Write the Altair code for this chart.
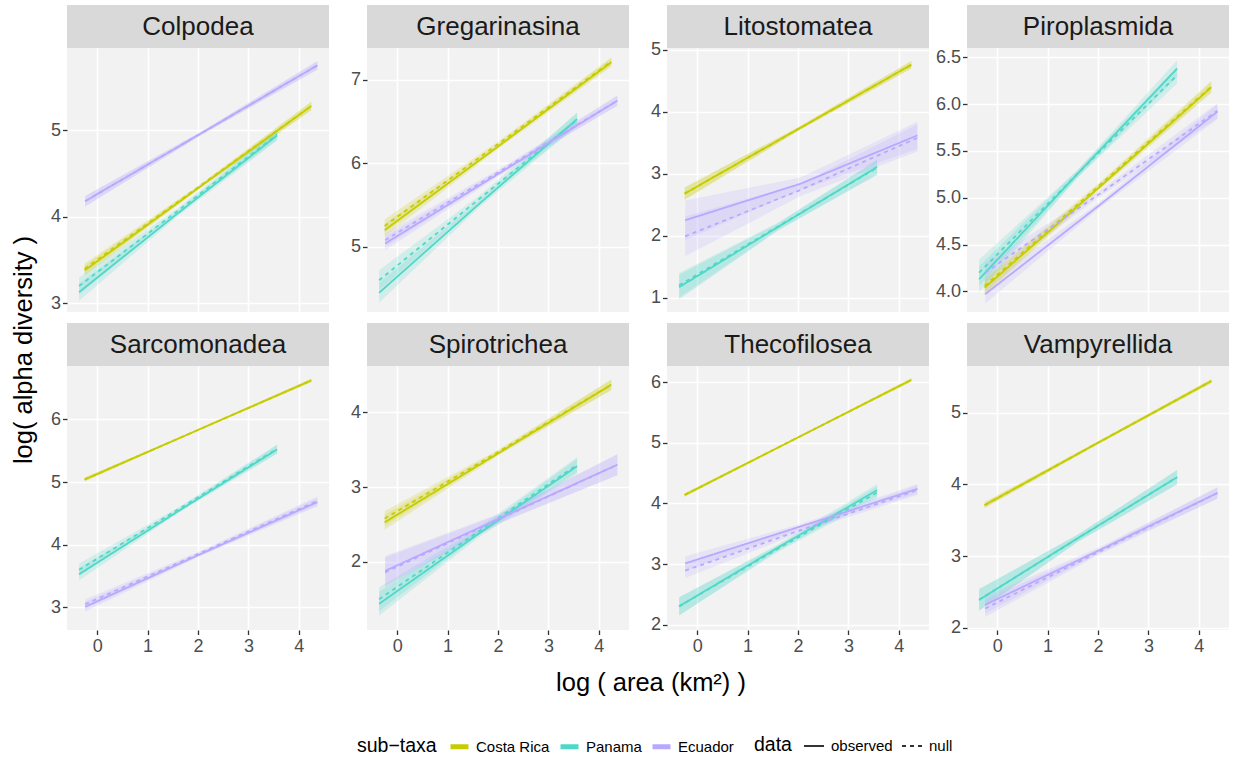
import altair as alt
import pandas as pd

FONT = "Liberation Sans"

taxa = ["Colpodea", "Gregarinasina", "Litostomatea", "Piroplasmida",
        "Sarcomonadea", "Spirotrichea", "Thecofilosea", "Vampyrellida"]
regions = ["Costa Rica", "Panama", "Ecuador"]
region_colors = ["#C6CC00", "#4FD8C8", "#B9A8FF"]
data_kinds = ["observed", "null"]

# x positions along each fitted line (start, middle, end)
x_cr = [-0.25, 2.0, 4.25]
x_pa = [-0.36, 1.6, 3.57]
x_ec = [-0.24, 2.05, 4.37]

# fitted values (start, middle, end) per taxon
cr_obs = [[3.38, 4.33, 5.28], [5.20, 6.20, 7.21], [2.68, 3.72, 4.76], [4.04, 5.10, 6.18],
          [5.04, 5.83, 6.62], [2.53, 3.45, 4.37], [4.14, 5.09, 6.04], [3.71, 4.58, 5.44]]
cr_null = [[3.40, 4.34, 5.28], [5.25, 6.23, 7.22], [2.68, 3.72, 4.76], [4.06, 5.12, 6.19],
           [5.04, 5.83, 6.62], [2.58, 3.47, 4.37], [4.14, 5.09, 6.04], [3.71, 4.58, 5.44]]
pa_obs = [[3.13, 4.04, 4.94], [4.45, 5.50, 6.53], [1.17, 2.14, 3.11], [4.13, 5.26, 6.38],
          [3.53, 4.53, 5.52], [1.44, 2.37, 3.28], [2.30, 3.27, 4.22], [2.39, 3.25, 4.10]]
pa_null = [[3.20, 4.07, 4.95], [4.60, 5.56, 6.52], [1.20, 2.15, 3.10], [4.20, 5.26, 6.31],
           [3.60, 4.56, 5.53], [1.50, 2.40, 3.30], [2.30, 3.25, 4.18], [2.39, 3.25, 4.10]]
ec_obs = [[4.18, 4.96, 5.75], [5.04, 5.89, 6.75], [2.25, 2.84, 3.62], [3.97, 4.93, 5.92],
          [3.01, 3.85, 4.68], [1.88, 2.59, 3.30], [3.01, 3.62, 4.24], [2.32, 3.09, 3.88]]
ec_null = [[4.18, 4.96, 5.75], [5.08, 5.91, 6.75], [1.99, 2.74, 3.58], [4.20, 5.05, 5.93],
           [3.05, 3.87, 4.70], [1.86, 2.58, 3.30], [2.89, 3.56, 4.22], [2.27, 3.07, 3.88]]

# confidence band half-widths (start, middle, end)
cr_band = [[0.06, 0.02, 0.05], [0.08, 0.03, 0.05], [0.10, 0.03, 0.06], [0.08, 0.03, 0.06],
           [0.03, 0.01, 0.03], [0.10, 0.03, 0.07], [0.03, 0.01, 0.03], [0.04, 0.02, 0.03]]
pa_band = [[0.10, 0.03, 0.06], [0.12, 0.04, 0.08], [0.20, 0.06, 0.12], [0.14, 0.04, 0.09],
           [0.10, 0.03, 0.07], [0.16, 0.05, 0.10], [0.15, 0.05, 0.10], [0.15, 0.05, 0.10]]
ec_band = [[0.06, 0.02, 0.05], [0.08, 0.03, 0.06], [0.32, 0.10, 0.22], [0.10, 0.03, 0.08],
           [0.08, 0.03, 0.07], [0.20, 0.06, 0.14], [0.12, 0.04, 0.08], [0.12, 0.04, 0.08]]

y_domains = [[2.90, 5.95], [4.22, 7.38], [0.77, 5.03], [3.78, 6.60],
             [2.64, 6.85], [1.09, 4.62], [1.91, 6.27], [1.97, 5.65]]
y_ticks = [[3, 4, 5], [5, 6, 7], [1, 2, 3, 4, 5], [4.0, 4.5, 5.0, 5.5, 6.0, 6.5],
           [3, 4, 5, 6], [2, 3, 4], [2, 3, 4, 5, 6], [2, 3, 4, 5]]
y_formats = ["d", "d", "d", ".1f", "d", "d", "d", "d"]
x_domain = [-0.6, 4.6]
x_ticks = [0, 1, 2, 3, 4]

y_title = "log( alpha diversity )"
x_title = "log ( area (km\u00b2) )"

series = [
    ("Costa Rica", x_cr, cr_obs, cr_null, cr_band),
    ("Panama", x_pa, pa_obs, pa_null, pa_band),
    ("Ecuador", x_ec, ec_obs, ec_null, ec_band),
]
rows = []
for ti, taxon in enumerate(taxa):
    for region, xs, obs, nul, band in series:
        for kind, vals in (("observed", obs), ("null", nul)):
            for k in range(3):
                y = vals[ti][k]
                h = band[ti][k]
                rows.append({"taxon": taxon, "region": region, "data": kind,
                             "x": xs[k], "y": y, "lo": y - h, "hi": y + h})
df = pd.DataFrame(rows)

W, H = 262, 264
TICK_LABEL = dict(labelFontSize=18, labelColor="#4D4D4D", labelFont=FONT,
                  tickColor="#333333", tickSize=4.5, tickWidth=1.3,
                  gridColor="white", gridWidth=1.6)
color_scale = alt.Scale(domain=regions, range=region_colors)
dash_scale = alt.Scale(domain=data_kinds, range=[[1, 0], [4, 4]])

color_legend = alt.Legend(
    title="sub\u2212taxa", orient="none", legendX=290, legendY=687,
    direction="horizontal", titleOrient="left", symbolType="stroke",
    symbolStrokeWidth=5, symbolSize=324, symbolOpacity=1,
    labelFontSize=15, titleFontSize=19.5,
    titleFontWeight="normal", labelOffset=5, columnPadding=0, titlePadding=11,
    labelFont=FONT, titleFont=FONT, titleColor="black", labelColor="black",
)
dash_legend = alt.Legend(
    title="data", orient="none", legendX=687, legendY=687,
    direction="horizontal", titleOrient="left", symbolType="stroke",
    symbolStrokeWidth=2, symbolSize=400, symbolStrokeColor="#333333",
    labelFontSize=15, titleFontSize=19.5, titleFontWeight="normal",
    labelOffset=6, columnPadding=5, titlePadding=11,
    labelFont=FONT, titleFont=FONT, titleColor="black", labelColor="black",
)


def make_panel(i):
    taxon = taxa[i]
    d = df[df["taxon"] == taxon]
    bottom = i >= 4
    xscale = alt.Scale(domain=x_domain, nice=False, zero=False)
    yscale = alt.Scale(domain=y_domains[i], nice=False, zero=False)
    xaxis = alt.Axis(values=x_ticks, title=None, labels=bottom, ticks=bottom,
                     domain=False, grid=True, format="d", labelPadding=3,
                     **TICK_LABEL)
    yaxis = alt.Axis(values=y_ticks[i], format=y_formats[i], title=None,
                     domain=False, grid=True, labelPadding=2, **TICK_LABEL)
    base = alt.Chart(d)
    bands = base.mark_area(opacity=0.2).encode(
        x=alt.X("x:Q", scale=xscale, axis=xaxis),
        y=alt.Y("lo:Q", scale=yscale, axis=yaxis),
        y2="hi:Q",
        color=alt.Color("region:N", scale=color_scale, legend=color_legend),
        detail="data:N",
    )
    lines = base.mark_line(strokeWidth=1.8).encode(
        x=alt.X("x:Q", scale=xscale, axis=xaxis),
        y=alt.Y("y:Q", scale=yscale, axis=yaxis),
        color=alt.Color("region:N", scale=color_scale, legend=color_legend),
        strokeDash=alt.StrokeDash("data:N", scale=dash_scale, legend=dash_legend),
    )
    sdf = pd.DataFrame({"taxon": [taxon]})
    strip = alt.Chart(sdf).mark_rect(color="#D9D9D9").encode(
        x=alt.value(0), x2=alt.value(W), y=alt.value(-43), y2=alt.value(0))
    strip_text = alt.Chart(sdf).mark_text(
        font=FONT, fontSize=26, color="#1A1A1A", baseline="middle", align="center"
    ).encode(x=alt.value(W / 2), y=alt.value(-21), text="taxon:N")
    layers = [bands, lines, strip, strip_text]
    if i == 0:
        layers.append(alt.Chart(pd.DataFrame({"label": [y_title]})).mark_text(
            font=FONT, fontSize=25.5, color="black", angle=270,
            baseline="middle", align="center"
        ).encode(x=alt.value(-43), y=alt.value(302), text="label:N"))
    if i == 6:
        layers.append(alt.Chart(pd.DataFrame({"label": [x_title]})).mark_text(
            font=FONT, fontSize=25.5, color="black",
            baseline="middle", align="center"
        ).encode(x=alt.value(-16), y=alt.value(317), text="label:N"))
    return alt.layer(*layers).properties(width=W, height=H)


panels = [make_panel(i) for i in range(len(taxa))]
chart = alt.concat(*panels, columns=4, spacing={"row": 54, "column": 38},
                   bounds="flush").properties(
    padding={"left": 12, "top": 5, "right": 5, "bottom": 5}
).configure(font=FONT).configure_view(
    fill="#F2F2F2", stroke=None
).configure_axis(
    gridColor="white", gridWidth=1.6, domain=False, tickColor="#333333",
    tickSize=4.5, tickWidth=1.3, labelColor="#4D4D4D", labelFontSize=18,
    labelFont=FONT, labelPadding=2
)

chart.save("out.html", embed_options={"renderer": "svg", "actions": False})
